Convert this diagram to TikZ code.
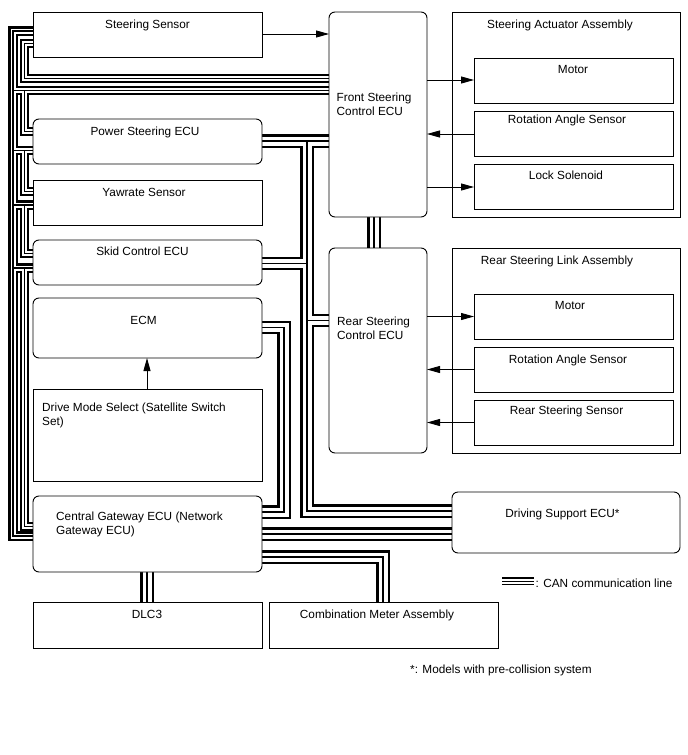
\documentclass[tikz,border=0pt]{standalone}
\usepackage{fontspec}
\setmainfont{Liberation Sans}
\usetikzlibrary{arrows.meta}
\newcommand\fs{\fontsize{11.8}{13.5}\selectfont}
% narrow CAN bundles (left side)
\newcommand\cannarrow[1]{%
 \draw[#1] (ss.west|-0,31) -- (13,31) -- (13,536) -- (gw.west|-0,536);
 \draw[#1] (j1) -- (fs.west|-0,90.5);
 \draw[#1] (j2) -- (ps.west|-0,150.5);
 \draw[#1] (j3) -- (yr.west|-0,205);
 \draw[#1] (j4) -- (sk.west|-0,268);
 \draw[#1] (ss.west|-0,43.5) -- (24.5,43.5) -- (24.5,78.5) -- (fs.west|-0,78.5);
 \draw[#1] (k1) -- (24.5,131.5) -- (ps.west|-0,131.5);
 \draw[#1] (k2) -- (24.5,191.5) -- (yr.west|-0,191.5);
 \draw[#1] (k3) -- (24.5,253.5) -- (sk.west|-0,253.5);
 \draw[#1] (k4) -- (24.5,526.5) -- (gw.west|-0,526.5);
}
% wide CAN bundles
\newcommand\canwide[1]{%
 \draw[#1] (ps.east|-0,141) -- (fs.west|-0,141);
 \draw[#1] (v0) -- (307,511) -- (dse.west|-0,511);
 \draw[#1] (sk.east|-0,263.5) -- (v1);
 \draw[#1] (v2) -- (rr.west|-0,320.5);
 \draw[#1] (ecm.east|-0,327.5) -- (284,327.5) -- (284,512) -- (gw.east|-0,512);
 \draw[#1] (gw.east|-0,534) -- (dse.west|-0,534);
 \draw[#1] (gw.east|-0,557) -- (383,557) -- (cm.north-|383,0);
 \draw[#1] (gw.south-|147,0) -- (dlc.north-|147,0);
 \draw[#1] (fs.south-|374,0) -- (rr.north-|374,0);
}
\tikzset{
 slot/.style={inner sep=0pt, outer sep=0pt, anchor=north west},
 lbl/.style={inner sep=0pt, anchor=base, font=\fs},
 lbll/.style={inner sep=0pt, anchor=base west, font=\fs},
 arr/.style={line width=0.9pt, -{Triangle[length=13pt,width=7pt]}},
 boxline/.style={line width=0.9pt, fill=white},
}
\begin{document}
\begin{tikzpicture}[x=1pt,y=-1pt]
\useasboundingbox[fill=white] (0,0) rectangle (688,755);
% box placement (outlines drawn after the CAN lines)
\path
 node[slot, minimum width=229pt, minimum height=45pt] (ss) at (33,12) {}
 node[slot, minimum width=98pt, minimum height=205pt] (fs) at (329,12) {}
 node[slot, minimum width=228pt, minimum height=205pt] (sa) at (452,12) {}
 node[slot, minimum width=199pt, minimum height=45pt] (m1) at (474,58) {}
 node[slot, minimum width=199pt, minimum height=45pt] (r1) at (474,111) {}
 node[slot, minimum width=199pt, minimum height=45pt] (l1) at (474,164) {}
 node[slot, minimum width=229pt, minimum height=45pt] (ps) at (33,119) {}
 node[slot, minimum width=229pt, minimum height=45pt] (yr) at (33,180) {}
 node[slot, minimum width=229pt, minimum height=45pt] (sk) at (33,240) {}
 node[slot, minimum width=229pt, minimum height=60pt] (ecm) at (33,298) {}
 node[slot, minimum width=229pt, minimum height=92pt] (dm) at (33,389) {}
 node[slot, minimum width=229pt, minimum height=76pt] (gw) at (33,496) {}
 node[slot, minimum width=229pt, minimum height=46pt] (dlc) at (33,602) {}
 node[slot, minimum width=229pt, minimum height=46pt] (cm) at (269,602) {}
 node[slot, minimum width=98pt, minimum height=205pt] (rr) at (329,248) {}
 node[slot, minimum width=228pt, minimum height=205pt] (rl) at (452,248) {}
 node[slot, minimum width=199pt, minimum height=45pt] (m2) at (474,294) {}
 node[slot, minimum width=199pt, minimum height=45pt] (r2) at (474,347) {}
 node[slot, minimum width=199pt, minimum height=45pt] (rs) at (474,400) {}
 node[slot, minimum width=228pt, minimum height=61pt] (dse) at (452,492) {};
% junction coordinates
\coordinate (j1) at (13,90.5);
\coordinate (j2) at (13,150.5);
\coordinate (j3) at (13,205);
\coordinate (j4) at (13,268);
\coordinate (k1) at (24.5,90.5);
\coordinate (k2) at (24.5,150.5);
\coordinate (k3) at (24.5,205);
\coordinate (k4) at (24.5,268);
\coordinate (v0) at (307,141);
\coordinate (v1) at (307,263.5);
\coordinate (v2) at (307,320.5);
% CAN lines, layered
\cannarrow{line width=9.2pt, black}
\canwide{line width=13.5pt, black}
\cannarrow{line width=5pt, white}
\canwide{line width=9pt, white}
\cannarrow{line width=1.1pt, black}
\canwide{line width=1.2pt, black}
% visible boxes
\foreach \n in {ss,sa,m1,r1,l1,yr,dm,dlc,cm,rl,m2,r2,rs}
  \draw[boxline] (\n.north west) rectangle (\n.south east);
\foreach \n in {fs,ps,sk,ecm,gw,rr,dse}
  \draw[boxline, rounded corners=6pt] (\n.north west) rectangle (\n.south east);
% arrows
\draw[arr] (ss.east|-0,34) -- (fs.west|-0,34);
\draw[arr] (fs.east|-0,80) -- (m1.west|-0,80);
\draw[arr] (r1.west|-0,134) -- (fs.east|-0,134);
\draw[arr] (fs.east|-0,187) -- (l1.west|-0,187);
\draw[arr] (rr.east|-0,316.5) -- (m2.west|-0,316.5);
\draw[arr] (r2.west|-0,369.5) -- (rr.east|-0,369.5);
\draw[arr] (rs.west|-0,422.5) -- (rr.east|-0,422.5);
\draw[arr] (dm.north-|147,0) -- (ecm.south-|147,0);
% labels
\node[lbl] (ssl) at (147.5,28) {Steering Sensor};
\node[lbll] (fsl1) at (336.5,101.5) {Front Steering};
\node[lbll] (fsl2) at (336.5,115) {Control ECU};
\node[lbl] (sal) at (560,28) {Steering Actuator Assembly};
\node[lbl] (m1l) at (573,73) {Motor};
\node[lbl] (r1l) at (567,123) {Rotation Angle Sensor};
\node[lbl] (l1l) at (566,179.5) {Lock Solenoid};
\node[lbl] (psl) at (145,135) {Power Steering ECU};
\node[lbl] (yrl) at (144,196) {Yawrate Sensor};
\node[lbl] (skl) at (142.5,255) {Skid Control ECU};
\node[lbl] (ecml) at (143.5,324) {ECM};
\node[lbll] (dml1) at (42,411.5) {Drive Mode Select (Satellite Switch};
\node[lbll] (dml2) at (42,425) {Set)};
\node[lbll] (gwl1) at (56,520) {Central Gateway ECU (Network};
\node[lbll] (gwl2) at (56,534) {Gateway ECU)};
\node[lbl] (dlcl) at (147,618) {DLC3};
\node[lbl] (cml) at (377,618) {Combination Meter Assembly};
\node[lbll] (rrl1) at (337,325) {Rear Steering};
\node[lbll] (rrl2) at (337,339) {Control ECU};
\node[lbl] (rll) at (557,264) {Rear Steering Link Assembly};
\node[lbl] (m2l) at (570,309) {Motor};
\node[lbl] (r2l) at (568,363) {Rotation Angle Sensor};
\node[lbl] (rsl) at (566.5,414) {Rear Steering Sensor};
\node[lbl] (dsel) at (562.5,517.5) {Driving Support ECU*};
% legend
\coordinate (lga) at (502,578);
\coordinate (lgb) at (534,578);
\coordinate (lgc) at (502,581.3);
\coordinate (lgd) at (534,581.3);
\coordinate (lge) at (502,584.6);
\coordinate (lgf) at (534,584.6);
\draw[line width=1.7pt] (lga) -- (lgb);
\draw[line width=1.4pt] (lgc) -- (lgd);
\draw[line width=1.7pt] (lge) -- (lgf);
\node[lbll] (legl) at (535.5,587) {: CAN communication line};
\node[lbll] (fnl) at (410,673) {*: Models with pre-collision system};
\end{tikzpicture}
\end{document}
